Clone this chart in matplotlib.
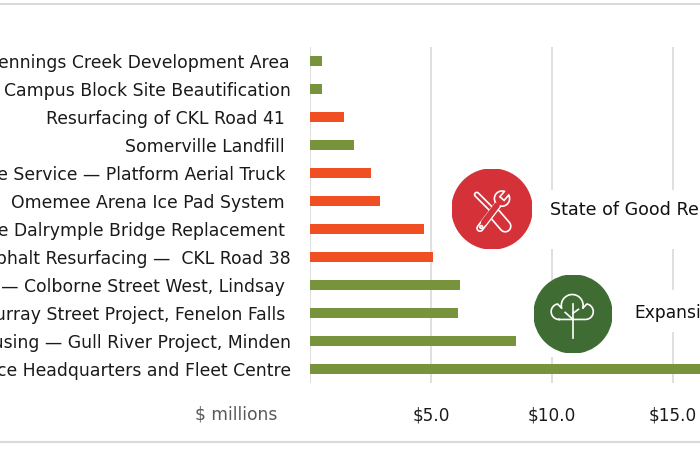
import numpy as np
import matplotlib
matplotlib.use("Agg")
import matplotlib.pyplot as plt
from matplotlib.patches import Circle, Rectangle, Polygon
from matplotlib.lines import Line2D

# Data (top to bottom, $ millions)
projects = [
    "Jennings Creek Development Area",
    "Campus Block Site Beautification",
    "Resurfacing of CKL Road 41 ",
    "Somerville Landfill ",
    "Fire Service \u2014 Platform Aerial Truck ",
    "Omemee Arena Ice Pad System ",
    "Lake Dalrymple Bridge Replacement ",
    "Asphalt Resurfacing \u2014  CKL Road 38",
    "Reconstruction \u2014 Colborne Street West, Lindsay ",
    "Murray Street Project, Fenelon Falls ",
    "Housing \u2014 Gull River Project, Minden",
    "Police Headquarters and Fleet Centre",
]
values = [0.5, 0.5, 1.4, 1.8, 2.5, 2.9, 4.7, 5.1, 6.2, 6.1, 8.5, 18.5]
category = ["exp", "exp", "sgr", "exp", "sgr", "sgr", "sgr", "sgr", "exp", "exp", "exp", "exp"]
ticks = [0, 5, 10, 15]
tick_labels = ["", "$5.0", "$10.0", "$15.0"]
legend_labels = ["State of Good Repair", "Expansion"]

GREEN = "#77933C"
ORANGE = "#F04E23"
colors = {"exp": GREEN, "sgr": ORANGE}

W, H = 700, 453
plt.rcParams["font.family"] = "DejaVu Sans"
fig = plt.figure(figsize=(W / 100, H / 100), dpi=100)


def fx(x):
    return x / W


def fy(y):
    return 1 - y / H


ax = fig.add_axes([fx(310), fy(383), 484 / W, 336 / H])
ypos = np.arange(len(projects))
ax.barh(ypos, values, height=0.36, color=[colors[c] for c in category], zorder=3)
ax.set_ylim(len(projects) - 0.5, -0.5)
ax.set_xlim(0, 20)
ax.set_yticks(ypos)
ax.set_yticklabels(projects, fontsize=12.4, color="#1a1a1a")
ax.set_xticks(ticks)
ax.set_xticklabels(tick_labels, fontsize=12.2, color="#1a1a1a")
ax.tick_params(axis="y", length=0, pad=14)
ax.tick_params(axis="x", length=0, pad=17)
ax.grid(axis="x", color="#d9d9d9", lw=1.2, zorder=0)
for s in ax.spines.values():
    s.set_visible(False)

fig.text(fx(277), fy(414), "$ millions", ha="right", va="center", fontsize=12.3, color="#595959")

# horizontal rules top and bottom
for yy in (3.5, 442):
    fig.add_artist(Line2D([0, 1], [fy(yy), fy(yy)], transform=fig.transFigure, color="#d9d9d9", lw=1.5))

# white boxes behind the legend items
for (x0, y0, x1, y1) in [(440, 190, 720, 249), (530, 290, 620, 357), (620, 290, 720, 332)]:
    fig.add_artist(Rectangle((fx(x0), fy(y1)), (x1 - x0) / W, (y1 - y0) / H,
                             transform=fig.transFigure, facecolor="white", edgecolor="none", zorder=1))


def icon_axes(cx, cy, r, color):
    a = fig.add_axes([fx(cx - r), fy(cy + r), 2 * r / W, 2 * r / H], zorder=2)
    a.set_xlim(-1, 1)
    a.set_ylim(-1, 1)
    a.axis("off")
    a.add_patch(Circle((0, 0), 1, color=color))
    return a


def capsule(p0, p1, r, n=12):
    p0, p1 = np.array(p0), np.array(p1)
    d = p1 - p0
    ang = np.arctan2(d[1], d[0])
    t1 = np.linspace(ang - np.pi / 2, ang + np.pi / 2, n)
    t0 = np.linspace(ang + np.pi / 2, ang + 3 * np.pi / 2, n)
    pts = [p1 + r * np.array([np.cos(t), np.sin(t)]) for t in t1]
    pts += [p0 + r * np.array([np.cos(t), np.sin(t)]) for t in t0]
    return np.array(pts)


def polar(c, r, deg):
    t = np.radians(deg)
    return np.asarray(c) + r * np.array([np.cos(t), np.sin(t)])


lw = 1.2

# State of good repair icon (tools)
RED = "#D43139"
a1 = icon_axes(492, 209, 40, RED)
a1.add_patch(Polygon(capsule((-0.38, 0.36), (0.02, -0.04), 0.055), closed=True, fc=RED, ec="white", lw=lw))
a1.add_patch(Polygon(capsule((0.08, -0.14), (0.33, -0.43), 0.14), closed=True, fc=RED, ec="white", lw=lw))
a1.add_patch(Polygon(capsule((-0.3, -0.48), (0.16, 0.12), 0.075), closed=True, fc=RED, ec="white", lw=lw))
c = np.array([0.25, 0.26])
u = np.array([np.cos(np.radians(50)), np.sin(np.radians(50))])
v = np.array([-u[1], u[0]])
head = [polar(c, 0.19, d) for d in np.linspace(72, 388, 40)]
head += [c - 0.07 * v + 0.17 * u, c - 0.07 * v, c + 0.07 * v, c + 0.07 * v + 0.17 * u]
a1.add_patch(Polygon(np.array(head), closed=True, fc=RED, ec="white", lw=lw))
a1.add_patch(Polygon(capsule((-0.2, -0.33), (0.12, 0.09), 0.074), closed=True, fc=RED, ec="none"))
a1.add_patch(Circle((-0.27, -0.45), 0.035, fc=RED, ec="white", lw=lw))

# Expansion icon (tree)
DKGREEN = "#3E6C33"
a2 = icon_axes(573, 314, 39, DKGREEN)
pts = []
for (cx, cy, r, t0, t1) in [(-0.36, 0.06, 0.2, 270, 100), (-0.02, 0.22, 0.28, 195, -15), (0.32, 0.06, 0.2, 80, -90)]:
    pts += [polar((cx, cy), r, d) for d in np.linspace(t0, t1, 30)]
pts.append(pts[0])
pts = np.array(pts)
a2.plot(pts[:, 0], pts[:, 1], color="white", lw=lw)
a2.plot([0.0, 0.0], [0.26, -0.62], color="white", lw=lw)
a2.plot([0.0, -0.2], [-0.14, 0.04], color="white", lw=lw)
a2.plot([0.0, 0.14], [0.02, 0.12], color="white", lw=lw)

fig.text(fx(550), fy(210), legend_labels[0], ha="left", va="center", fontsize=12.6, color="#111111", zorder=3)
fig.text(fx(634), fy(313), legend_labels[1], ha="left", va="center", fontsize=12.3, color="#111111", zorder=3)

fig.savefig("out.png", dpi=100)
